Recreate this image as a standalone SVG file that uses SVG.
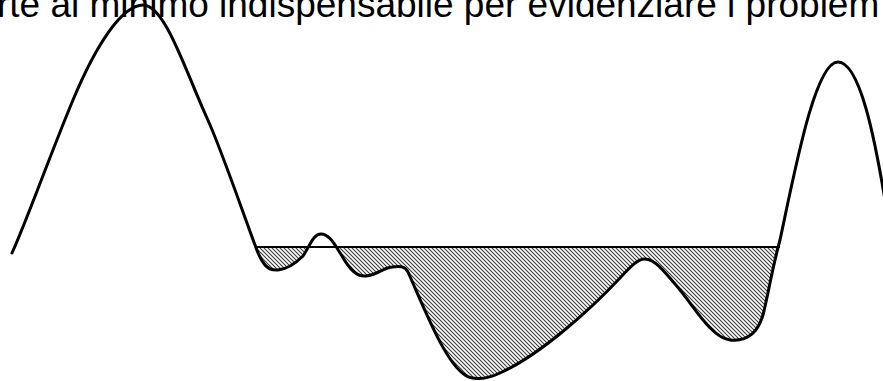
<svg xmlns="http://www.w3.org/2000/svg" width="883" height="381" viewBox="0 0 883 381">
<style>
.title{font-family:"Liberation Sans",Arial,sans-serif;font-size:37px;fill:#000}
.curve{fill:none;stroke:#000;stroke-width:3;stroke-linejoin:round;stroke-linecap:round}
.level{stroke:#000;stroke-width:1.8}
.hatch{fill:url(#hatch);stroke:none}
</style>
<defs>
<pattern id="hatch" patternUnits="userSpaceOnUse" width="4" height="4">
<rect width="4" height="4" fill="#fff"/>
<path d="M-1,-1 L5,5 M-1,3 L1,5 M3,-1 L5,1" stroke="#3a3a3a" stroke-width="1.1"/>
</pattern>
<clipPath id="below"><rect x="0" y="247" width="883" height="134"/></clipPath>
</defs>
<text class="title" x="-3" y="17">rte al minimo indispensabile per evidenziare i problem</text>
<g id="hatched-area" clip-path="url(#below)">
<path class="hatch" d="M255,247 C262,265 268,271 278,270 C288,269 297,262 303,256 C310,246 313,234 321,234 C330,234 336,247 342,256 C350,270 357,277 366,276 C378,275 382,268 392,267 C400,266 405,266 408,272 C425,310 445,362 465,375 C472,380 485,380 500,373 C540,355 590,310 620,278 C632,265 638,259 645,259 C655,259 665,272 680,290 C695,308 712,338 730,340 C748,342 758,332 763,315 C768,295 773,265 780,240 L780,247 Z"/>
</g>
<g id="level-line">
<line class="level" x1="255" y1="247" x2="780" y2="247"/>
</g>
<g id="profile">
<path class="curve" d="M12,253 C27,220 50,155 73,100 C96,45 122,5 143,5 C165,5 185,70 207,118 C220,146 242,210 255,245 C262,265 268,271 278,270 C288,269 297,262 303,256 C310,246 313,234 321,234 C330,234 336,247 342,256 C350,270 357,277 366,276 C378,275 382,268 392,267 C400,266 405,266 408,272 C425,310 445,362 465,375 C472,380 485,380 500,373 C540,355 590,310 620,278 C632,265 638,259 645,259 C655,259 665,272 680,290 C695,308 712,338 730,340 C748,342 758,332 763,315 C768,295 773,265 780,240 C795,170 815,62 838,62 C860,62 875,140 885,200"/>
</g>
</svg>
